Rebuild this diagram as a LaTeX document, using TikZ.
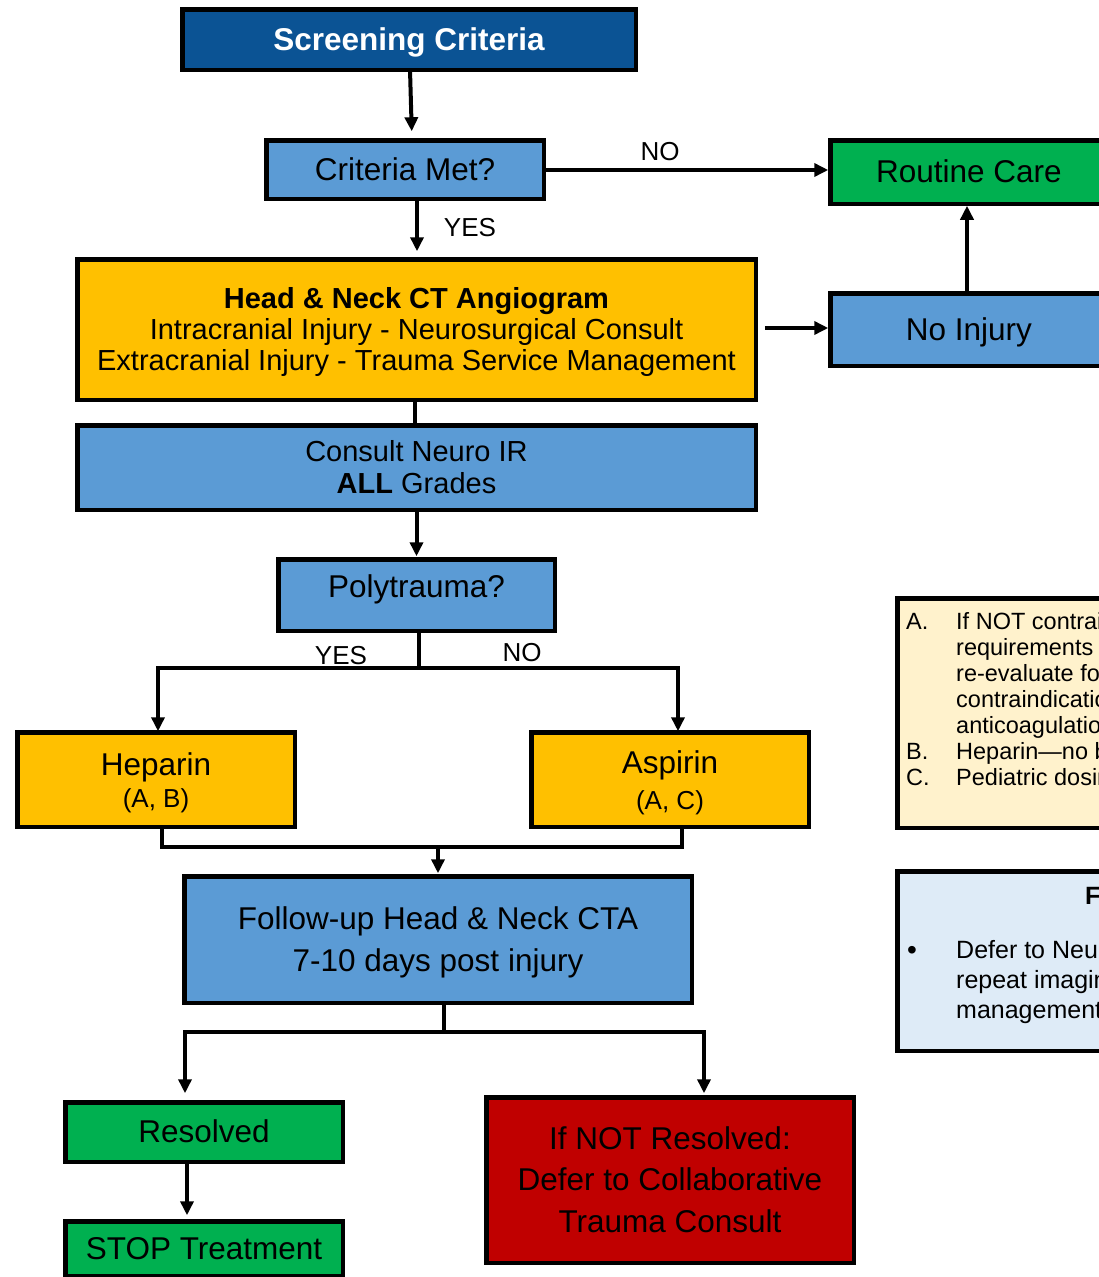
\documentclass[tikz,border=0pt]{standalone}
\usepackage{fontspec}
\setmainfont{Liberation Sans}
\usetikzlibrary{arrows.meta,calc}
\definecolor{navy}{HTML}{0B5394}
\definecolor{midblue}{HTML}{5B9BD5}
\definecolor{gold}{HTML}{FFC000}
\definecolor{grn}{HTML}{00B050}
\definecolor{crimson}{HTML}{C00000}
\definecolor{cream}{HTML}{FFF2CC}
\definecolor{pale}{HTML}{DEEBF7}
\newcommand\ts{\rule{0pt}{0.905em}}
\newcommand\bs{\rule[-0.212em]{0pt}{0.212em}}
\begin{document}
\begin{tikzpicture}[x=1pt,y=-1pt,
 box/.style={draw=black, line width=4.5pt, inner sep=0pt, outer sep=0pt, align=center, text=black},
 conn/.style={line width=4pt},
 arr/.style={line width=4pt, -{Triangle[length=14pt,width=13pt]}},
 fbig/.style={font=\fontsize{31.5}{36}\selectfont},
 fmid/.style={font=\fontsize{29}{31}\selectfont},
 flab/.style={font=\fontsize{26}{30}\selectfont},
 fnote/.style={font=\fontsize{23.5}{26}\selectfont, inner sep=0pt},
]
\useasboundingbox (0,0) rectangle (1099,1277);
\clip (0,0) rectangle (1099,1277);

% boxes
\node[box, fill=navy, text=white, minimum width=453.5pt, minimum height=60.5pt, font=\fontsize{31.5}{36}\selectfont\bfseries] (scr) at (409,39.5) {\ts Screening Criteria\bs};
\node[box, fill=midblue, fbig, minimum width=277.5pt, minimum height=58.5pt] (met) at (405,169.5) {\ts Criteria Met?\bs};
\node[box, fill=grn, fbig, minimum width=277.5pt, minimum height=63.5pt] (routine) at (969,172) {\ts Routine Care\bs};
\node[box, fill=gold, fmid, minimum width=678.5pt, minimum height=140.5pt] (head) at (416.5,329.5) {\textbf{\ts Head \& Neck CT Angiogram}\\Intracranial Injury - Neurosurgical Consult\\Extracranial Injury - Trauma Service Management\bs};
\node[box, fill=midblue, fbig, minimum width=277.5pt, minimum height=72.5pt] (noinj) at (969,329.5) {\ts No Injury\bs};
\node[box, fill=midblue, font=\fontsize{29}{32}\selectfont, minimum width=678.5pt, minimum height=84.5pt] (consult) at (416.5,467.5) {\ts Consult Neuro IR\\\textbf{ALL} Grades\bs};
\node[box, fill=midblue, fbig, minimum width=276.5pt, minimum height=71.5pt] (poly) at (416.5,595) {\raisebox{8pt}[0.905em][0.212em]{Polytrauma?}};
\node[box, fill=gold, font=\fontsize{31.5}{32}\selectfont, minimum width=277.5pt, minimum height=94.5pt] (hep) at (156,779.5) {\ts Heparin\\{\fontsize{26}{32}\selectfont (A, B)\bs}};
\node[box, fill=gold, font=\fontsize{31.5}{36}\selectfont, minimum width=277.5pt, minimum height=94.5pt] (asp) at (670,779.5) {\ts Aspirin\\{\fontsize{26}{36}\selectfont (A, C)\bs}};
\node[box, fill=midblue, font=\fontsize{31.5}{42}\selectfont, minimum width=507.5pt, minimum height=126.5pt] (fu) at (438,939.5) {\ts Follow-up Head \& Neck CTA\\7-10 days post injury\bs};
\node[box, fill=grn, fbig, minimum width=277.5pt, minimum height=59.5pt] (res) at (204,1132) {\ts Resolved\bs};
\node[box, fill=grn, fbig, minimum width=277.5pt, minimum height=54.5pt] (stop) at (204,1248.5) {\ts STOP Treatment\bs};
\node[box, fill=crimson, font=\fontsize{31.5}{41.5}\selectfont, minimum width=367.5pt, minimum height=165.5pt] (notres) at (670,1180) {\ts If NOT Resolved:\\Defer to Collaborative\\Trauma Consult\bs};

% side notes
\node[box, fill=cream, minimum width=400pt, minimum height=229.5pt] (notes) at (1097.25,713) {};
\node[fnote, anchor=base west] (notestext) at (906,629) {\begin{tabular}[t]{@{}p{50pt}@{}l@{}}
A. & If NOT contraindicated based on\\
 & requirements for surgery,\\
 & re-evaluate for\\
 & contraindications to\\
 & anticoagulation\\
B. & Heparin---no bolus\\
C. & Pediatric dosing
\end{tabular}};
\node[box, fill=pale, minimum width=400pt, minimum height=179.5pt] (fnotes) at (1097.25,961) {};
\node[fnote, anchor=base west, font=\fontsize{25}{26}\selectfont\bfseries] (futitle) at (1085,904) {Follow-up};
\node[fnote, anchor=base west, font=\fontsize{25}{30}\selectfont] (futext) at (907,958) {\begin{tabular}[t]{@{}p{49pt}@{}l@{}}
{\fontsize{28}{30}\selectfont\raisebox{-1pt}{•}} & Defer to Neuro IR for\\
 & repeat imaging and\\
 & management
\end{tabular}};

% connectors
\draw[arr, shorten >=9pt] ([xshift=1pt]scr.south) -- ([xshift=7pt]met.north);
\draw[arr, shorten >=2pt] ([yshift=-0.5pt]met.east) -- ([yshift=-0.5pt]met.east -| routine.west);
\node[flab] (nolab1) at (660,152) {NO};
\draw[arr, shorten >=8pt] ([xshift=12pt]met.south) -- ([xshift=12pt]met.south |- head.north);
\node[flab] (yeslab1) at (470,228) {YES};
\draw[arr, shorten <=9pt, shorten >=2pt] ([yshift=1.5pt]head.east) -- ([yshift=1.5pt]head.east -| noinj.west);
\draw[arr, shorten >=2pt] ([xshift=-2pt]noinj.north) -- ([xshift=-2pt]routine.south);
\draw[conn] ([xshift=-1.5pt]head.south) -- ([xshift=-1.5pt]consult.north);
\draw[arr, shorten >=3pt] (consult.south) -- (poly.north);

\coordinate (split) at (419,668);
\draw[conn] ([xshift=2.5pt]poly.south) -- (split);
\draw[arr, shorten >=1pt] (split) -| ([xshift=2pt]hep.north);
\draw[arr, shorten >=1pt] (split) -| ([xshift=8pt]asp.north);
\node[flab] (yeslab2) at (341,656) {YES};
\node[flab] (nolab2) at (522,653) {NO};

\coordinate (merge) at (438,847);
\draw[conn] ([xshift=6pt]hep.south) |- (merge) -| ([xshift=12pt]asp.south);
\draw[arr, shorten >=3pt] (merge) -- (merge |- fu.north);

\coordinate (split2) at (444,1032);
\draw[conn] (split2 |- fu.south) -- (split2);
\draw[arr, shorten >=9pt] (split2) -| ([xshift=-19pt]res.north);
\draw[arr, shorten >=4pt] (split2) -| ([xshift=34pt]notres.north);
\draw[arr, shorten >=6pt] ([xshift=-17pt]res.south) -- ([xshift=-17pt]stop.north);
\end{tikzpicture}
\end{document}
